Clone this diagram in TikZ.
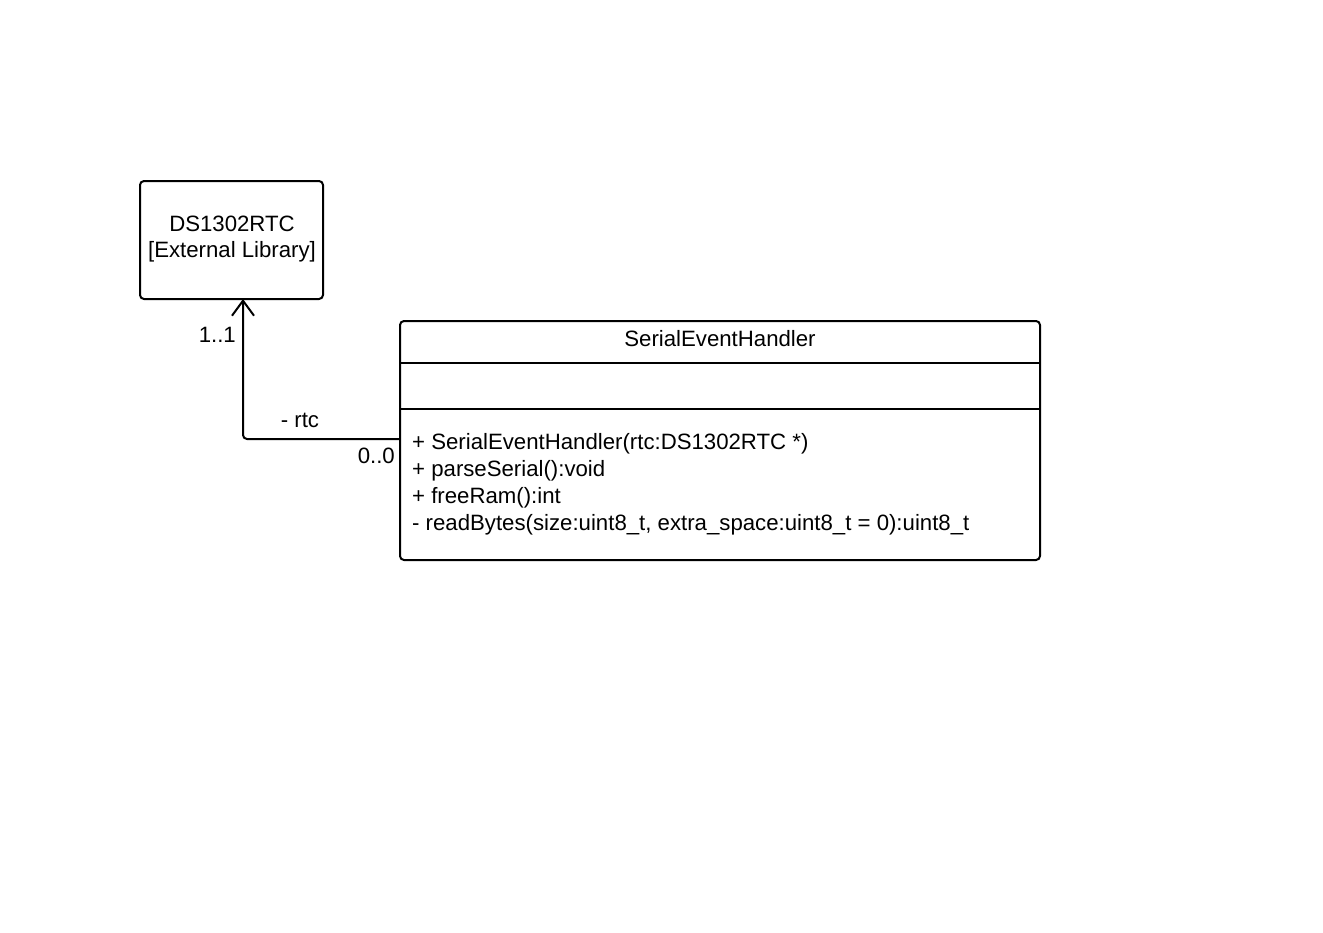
\documentclass[tikz,border=0pt]{standalone}
\usepackage{fontspec}
\setmainfont{Liberation Sans}
\usetikzlibrary{arrows.meta}
\begin{document}
\begin{tikzpicture}[x=1pt,y=-1pt,
  box/.style={draw,line width=2pt,rounded corners=4pt},
  lbl/.style={font=\fontsize{22.2}{26}\selectfont,inner sep=0pt},
  conn/.style={line width=2pt,rounded corners=4pt,-{Straight Barb[length=15pt,width=22pt,line width=2pt]}}]
\useasboundingbox (0,0) rectangle (1323,932);
% DS1302RTC box
\draw[box] (140,181) rectangle (323,299);
\coordinate (rtcbot) at (243,299);
\node[lbl,anchor=base] (rtc1) at (232,231) {DS1302RTC};
\node[lbl,anchor=base] (rtc2) at (232,257) {[External Library]};
% SerialEventHandler box
\draw[box] (400,321) rectangle (1040,560);
\draw[line width=2pt] (400,363) -- (1040,363);
\draw[line width=2pt] (400,409) -- (1040,409);
\coordinate (sehleft) at (400,439);
\node[lbl,anchor=base] (title) at (720,346) {SerialEventHandler};
\node[lbl,anchor=base west] (m1) at (412,449) {+ SerialEventHandler(rtc:DS1302RTC *)};
\node[lbl,anchor=base west] (m2) at (412,476) {+ parseSerial():void};
\node[lbl,anchor=base west] (m3) at (412,503) {+ freeRam():int};
\node[lbl,anchor=base west] (m4) at (412,530) {- readBytes(size:uint8\_t, extra\_space:uint8\_t = 0):uint8\_t};
% connector
\draw[conn] (sehleft) -- (243,439) -- (rtcbot);
\node[lbl,anchor=base east] (m11) at (236,342) {1..1};
\node[lbl,anchor=base] (mrtc) at (300,427) {- rtc};
\node[lbl,anchor=base east] (m00) at (395,463) {0..0};
\end{tikzpicture}
\end{document}
